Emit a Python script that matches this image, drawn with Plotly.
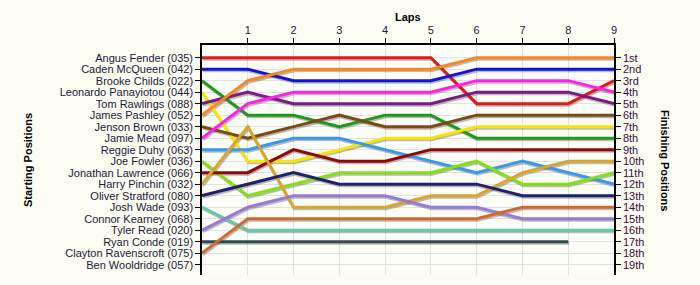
import plotly.graph_objects as go

laps = [0, 1, 2, 3, 4, 5, 6, 7, 8, 9]
lap_ticks = [1, 2, 3, 4, 5, 6, 7, 8, 9]

start_names = [
    "Angus Fender (035)", "Caden McQueen (042)", "Brooke Childs (022)",
    "Leonardo Panayiotou (044)", "Tom Rawlings (088)", "James Pashley (052)",
    "Jenson Brown (033)", "Jamie Mead (097)", "Reggie Duhy (063)",
    "Joe Fowler (036)", "Jonathan Lawrence (066)", "Harry Pinchin (032)",
    "Oliver Stratford (080)", "Josh Wade (093)", "Connor Kearney (068)",
    "Tyler Read (020)", "Ryan Conde (019)", "Clayton Ravenscroft (075)",
    "Ben Wooldridge (057)",
]
finish_labels = ["1st", "2nd", "3rd", "4th", "5th", "6th", "7th", "8th", "9th", "10th",
                 "11th", "12th", "13th", "14th", "15th", "16th", "17th", "18th", "19th"]
positions_axis = list(range(1, 20))

# positions per lap (lap 0 = starting position)
angus_fender = [1, 1, 1, 1, 1, 1, 5, 5, 5, 3]
caden_mcqueen = [2, 2, 3, 3, 3, 3, 2, 2, 2, 2]
brooke_childs = [3, 6, 6, 7, 6, 6, 8, 8, 8, 8]
leonardo_panayiotou = [4, 10, 10, 9, 8, 8, 7, 7, 7, 7]
tom_rawlings = [5, 4, 5, 5, 5, 5, 4, 4, 4, 5]
james_pashley = [6, 3, 2, 2, 2, 2, 1, 1, 1, 1]
jenson_brown = [7, 8, 7, 6, 7, 7, 6, 6, 6, 6]
jamie_mead = [8, 5, 4, 4, 4, 4, 3, 3, 3, 4]
reggie_duhy = [9, 9, 8, 8, 9, 10, 11, 10, 11, 12]
joe_fowler = [10, 13, 12, 11, 11, 11, 10, 12, 12, 11]
jonathan_lawrence = [11, 11, 9, 10, 10, 9, 9, 9, 9, 9]
harry_pinchin = [12, 7, 14, 14, 14, 13, 13, 11, 10, 10]
oliver_stratford = [13, 12, 11, 12, 12, 12, 12, 13, 13, 13]
josh_wade = [14, 16, 16, 16, 16, 16, 16, 16, 16, 16]
tyler_read = [16, 14, 13, 13, 13, 14, 14, 15, 15, 15]
ryan_conde = [17, 17, 17, 17, 17, 17, 17, 17, 17, None]
clayton_ravenscroft = [18, 15, 15, 15, 15, 15, 15, 14, 14, 14]

series = [
    (angus_fender, "#e01a1a"),
    (caden_mcqueen, "#1414d8"),
    (brooke_childs, "#1d9a1d"),
    (leonardo_panayiotou, "#f8e600"),
    (tom_rawlings, "#7a1a86"),
    (james_pashley, "#f8881e"),
    (jenson_brown, "#7b4a14"),
    (jamie_mead, "#ff20f0"),
    (reggie_duhy, "#3898f0"),
    (joe_fowler, "#84e010"),
    (jonathan_lawrence, "#8c0a0a"),
    (harry_pinchin, "#dba52a"),
    (oliver_stratford, "#20206e"),
    (josh_wade, "#66c6a8"),
    (tyler_read, "#9878d8"),
    (ryan_conde, "#2f4c4c"),
    (clayton_ravenscroft, "#d2692a"),
]

fig = go.Figure()
# shadows
for vals, col in series:
    fig.add_trace(go.Scatter(
        x=[l + 0.02 for l in laps],
        y=[(v + 0.14) if v is not None else None for v in vals],
        mode="lines", line=dict(color="rgba(60,60,60,0.35)", width=3),
        hoverinfo="skip", showlegend=False, xaxis="x", yaxis="y"))
for vals, col in series:
    fig.add_trace(go.Scatter(
        x=laps, y=vals, mode="lines", line=dict(color=col, width=3),
        showlegend=False, xaxis="x", yaxis="y"))
# invisible trace for right axis
fig.add_trace(go.Scatter(x=[0], y=[1], mode="markers", marker=dict(opacity=0),
                         showlegend=False, hoverinfo="skip", xaxis="x", yaxis="y2"))

font_family = "Liberation Sans, Arial, sans-serif"
yr = [19.9, -0.1]

fig.update_layout(
    width=700, height=285,
    margin=dict(l=202, r=86, t=45, b=10),
    paper_bgcolor="#fcfcf2",
    plot_bgcolor="#fefef9",
    font=dict(family=font_family, size=11, color="#1a1a3a"),
    xaxis=dict(
        side="top", range=[0, 9], tickvals=lap_ticks, ticktext=[str(t) for t in lap_ticks],
        showgrid=True, gridcolor="#e2e2e2", gridwidth=1, zeroline=False,
        showline=True, linecolor="black", linewidth=1.5, ticks="outside", ticklen=5,
        tickcolor="black", tickfont=dict(size=11, color="#1a1a3a"), mirror=False,
    ),
    yaxis=dict(
        range=yr, tickvals=positions_axis, ticktext=start_names,
        showgrid=True, gridcolor="#e2e2e2", gridwidth=1, zeroline=False,
        showline=True, linecolor="black", linewidth=1.5, ticks="outside", ticklen=5,
        tickcolor="black", tickfont=dict(size=11, color="#1a1a3a"),
    ),
    yaxis2=dict(
        range=yr, tickvals=positions_axis, ticktext=finish_labels, overlaying="y",
        side="right", showgrid=False, zeroline=False,
        showline=True, linecolor="black", linewidth=1.5, ticks="outside", ticklen=5,
        tickcolor="black", tickfont=dict(size=11, color="#3a0a40"),
    ),
    annotations=[
        dict(text="<b>Laps</b>", x=0.5, y=1, xref="paper", yref="paper",
             yanchor="middle", yshift=28, showarrow=False, font=dict(size=11, color="black")),
        dict(text="<b>Starting Positions</b>", xref="paper", yref="paper",
             x=0, y=0.5, xshift=-174, xanchor="center", showarrow=False, textangle=-90,
             font=dict(size=11, color="black")),
        dict(text="<b>Finishing Positions</b>", xref="paper", yref="paper",
             x=1, y=0.5, xshift=51, xanchor="center", showarrow=False, textangle=90,
             font=dict(size=11, color="black")),
    ],
)

fig.write_html("out.html")
